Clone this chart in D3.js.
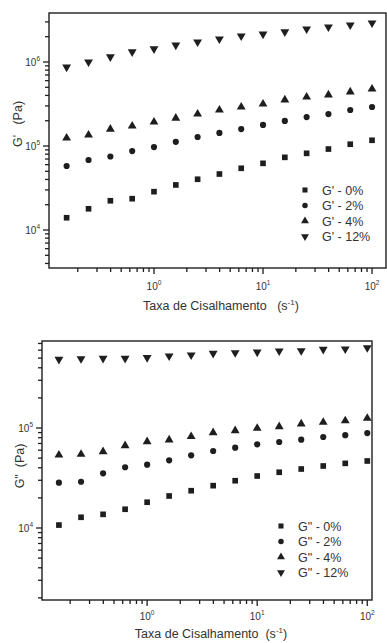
<!DOCTYPE html>
<html lang="pt">
<head>
  <meta charset="UTF-8">
  <title>G' e G'' vs Taxa de Cisalhamento</title>
  <style>
    * { box-sizing: border-box; margin: 0; }
    body { width: 387px; height: 643px; background: #fff; overflow: hidden; }
    svg { display: block; font-family: "Liberation Sans", Arial, sans-serif; }
    text { white-space: pre; }
    .frame { fill: none; stroke: #1e1e1e; stroke-width: 1.4; }
    .lbl { fill: #333; }
  </style>
</head>
<body>
  <svg></svg>
  <script src="https://d3js.org/d3.v7.min.js"></script>
  <script>
    // shear rate (s^-1), shared by every series
    const shearRate = [0.158, 0.251, 0.398, 0.631, 1, 1.585, 2.512, 3.981, 6.31, 10, 15.85, 25.12, 39.81, 63.1, 100];

    // storage modulus G' (Pa)
    const gp0  = [1.40e4, 1.79e4, 2.23e4, 2.36e4, 2.86e4, 3.44e4, 4.02e4, 4.64e4, 5.43e4, 6.22e4, 7.33e4, 8.18e4, 9.2e4, 1.05e5, 1.17e5];
    const gp2  = [5.78e4, 6.81e4, 7.5e4, 8.7e4, 9.7e4, 1.12e5, 1.28e5, 1.43e5, 1.59e5, 1.78e5, 1.99e5, 2.21e5, 2.40e5, 2.68e5, 2.91e5];
    const gp4  = [1.245e5, 1.35e5, 1.59e5, 1.73e5, 1.93e5, 2.15e5, 2.40e5, 2.68e5, 2.91e5, 3.16e5, 3.53e5, 3.83e5, 4.05e5, 4.40e5, 4.77e5];
    const gp12 = [8.7e5, 1.0e6, 1.15e6, 1.32e6, 1.43e6, 1.59e6, 1.73e6, 1.88e6, 2.04e6, 2.15e6, 2.28e6, 2.47e6, 2.61e6, 2.76e6, 2.91e6];

    // loss modulus G'' (Pa)
    const gpp0  = [1.07e4, 1.28e4, 1.37e4, 1.54e4, 1.81e4, 2.09e4, 2.36e4, 2.65e4, 2.97e4, 3.31e4, 3.61e4, 3.89e4, 4.17e4, 4.43e4, 4.68e4];
    const gpp2  = [2.84e4, 2.90e4, 3.52e4, 4.05e4, 4.30e4, 4.75e4, 5.33e4, 5.89e4, 6.36e4, 6.87e4, 7.25e4, 7.65e4, 8.13e4, 8.48e4, 8.9e4];
    const gpp4  = [5.37e4, 5.46e4, 5.80e4, 6.65e4, 7.30e4, 7.59e4, 8.22e4, 8.98e4, 9.40e4, 9.93e4, 1.03e5, 1.10e5, 1.14e5, 1.18e5, 1.25e5];
    const gpp12 = [4.86e5, 4.93e5, 4.98e5, 4.98e5, 5.05e5, 5.25e5, 5.37e5, 5.58e5, 5.66e5, 5.75e5, 5.89e5, 5.93e5, 6.12e5, 6.17e5, 6.35e5];

    const gpLabels  = ["G' - 0%", "G' - 2%", "G' - 4%", "G' - 12%"];
    const gppLabels = ['G" - 0%', 'G" - 2%', 'G" - 4%', 'G" - 12%'];
    const xTitle = 'Taxa de Cisalhamento';
    const gpTitle = "G'   (Pa)";
    const gppTitle = 'G"  (Pa)';

    const shapes = [d3.symbolSquare, d3.symbolCircle, d3.symbolTriangle, d3.symbolTriangle];
    const sizes = [32, 30, 34, 34];
    const flips = [0, 0, 0, 180];

    const svg = d3.select('svg').attr('width', 387).attr('height', 643);

    function isDecade(d) {
      return Math.abs(Math.log10(d) - Math.round(Math.log10(d))) < 1e-9;
    }

    function powerLabel(sel, d) {
      sel.append('tspan').text('10');
      sel.append('tspan').attr('dy', -5).style('font-size', '6.5px').text(Math.round(Math.log10(d)));
    }

    function drawPanel(p) {
      const x = d3.scaleLog().domain(p.xDomain).range([p.left, p.right]);
      const y = d3.scaleLog().domain(p.yDomain).range([p.bottom, p.top]);
      const g = svg.append('g');

      // frame
      g.append('rect').attr('class', 'frame')
        .attr('x', p.left).attr('y', p.top)
        .attr('width', p.right - p.left).attr('height', p.bottom - p.top);

      // x axis ticks (major + minor), outward
      const xTicks = x.ticks();
      g.append('g').selectAll('line').data(xTicks).enter().append('line')
        .attr('x1', d => x(d)).attr('x2', d => x(d))
        .attr('y1', p.bottom).attr('y2', d => p.bottom + (isDecade(d) ? 6 : 4))
        .attr('stroke', '#1e1e1e').attr('stroke-width', 1.3);
      xTicks.filter(isDecade).forEach(d => {
        const t = g.append('text').attr('class', 'lbl')
          .attr('x', x(d)).attr('y', p.xLabelY).attr('text-anchor', 'middle')
          .style('font-size', '10px');
        powerLabel(t, d);
      });

      // y axis ticks, outward
      const yTicks = y.ticks();
      g.append('g').selectAll('line').data(yTicks).enter().append('line')
        .attr('y1', d => y(d)).attr('y2', d => y(d))
        .attr('x1', p.left).attr('x2', d => p.left - (isDecade(d) ? 6 : 4))
        .attr('stroke', '#1e1e1e').attr('stroke-width', 1.3);
      yTicks.filter(isDecade).forEach(d => {
        const t = g.append('text').attr('class', 'lbl')
          .attr('x', p.left - 9).attr('y', y(d) + 4).attr('text-anchor', 'end')
          .style('font-size', '10px');
        powerLabel(t, d);
      });

      // axis titles
      const xt = g.append('text').attr('class', 'lbl')
        .attr('x', p.xTitleX).attr('y', p.xTitleY).attr('text-anchor', 'middle')
        .style('font-size', '12.5px');
      xt.append('tspan').text(xTitle + p.xGap + '(s');
      xt.append('tspan').attr('dy', -5).style('font-size', '8px').text('-1');
      xt.append('tspan').attr('dy', 5).text(')');

      g.append('text').attr('class', 'lbl')
        .attr('transform', 'translate(' + p.yTitleX + ',' + p.yTitleY + ') rotate(-90)')
        .attr('text-anchor', 'middle')
        .style('font-size', '12.5px')
        .text(p.yTitle);

      // markers
      p.series.forEach((vals, i) => {
        const sym = d3.symbol().type(shapes[i]).size(sizes[i]);
        g.append('g').selectAll('path').data(vals).enter().append('path')
          .attr('d', sym)
          .attr('fill', '#1e1e1e')
          .attr('transform', (v, j) => 'translate(' + x(shearRate[j]) + ',' + y(v) + ') rotate(' + flips[i] + ')');
      });

      // legend
      const leg = g.append('g');
      p.labels.forEach((lab, i) => {
        const ly = p.legY + i * 15.5;
        leg.append('path')
          .attr('d', d3.symbol().type(shapes[i]).size(sizes[i] * 0.8))
          .attr('fill', '#1e1e1e')
          .attr('transform', 'translate(' + p.legX + ',' + ly + ') rotate(' + flips[i] + ')');
        leg.append('text').attr('class', 'lbl')
          .attr('x', p.legX + 17).attr('y', ly + 4.5)
          .style('font-size', '12.5px')
          .text(lab);
      });
    }

    drawPanel({
      left: 49, right: 386, top: 13, bottom: 268,
      xDomain: [Math.pow(10, -0.963), Math.pow(10, 2.128)],
      yDomain: [Math.pow(10, 3.548), Math.pow(10, 6.583)],
      xLabelY: 290, xTitleX: 221, xTitleY: 310, xGap: '   ',
      yTitleX: 22, yTitleY: 124, yTitle: gpTitle,
      series: [gp0, gp2, gp4, gp12], labels: gpLabels,
      legX: 305, legY: 190
    });

    drawPanel({
      left: 42, right: 372, top: 341, bottom: 600,
      xDomain: [Math.pow(10, -0.955), Math.pow(10, 2.043)],
      yDomain: [Math.pow(10, 3.28), Math.pow(10, 5.87)],
      xLabelY: 620, xTitleX: 211, xTitleY: 638, xGap: '  ',
      yTitleX: 24, yTitleY: 466, yTitle: gppTitle,
      series: [gpp0, gpp2, gpp4, gpp12], labels: gppLabels,
      legX: 281, legY: 526
    });
  </script>
</body>
</html>
